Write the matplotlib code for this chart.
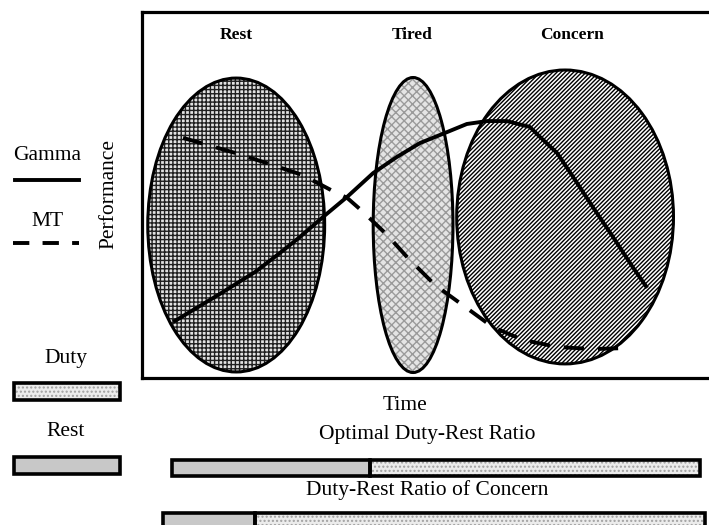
import matplotlib.pyplot as plt
from matplotlib.patches import Ellipse, Rectangle

plt.rcParams['font.family'] = ['Liberation Serif', 'DejaVu Serif']
plt.rcParams['hatch.linewidth'] = 1.0

# zones on the time axis (time 0-100, performance 0-100)
zone_names = ["Rest", "Tired", "Concern"]
zone_time = [16.3, 46.9, 73.2]
zone_perf = [41.8, 41.8, 44.0]
zone_span_t = [30.6, 13.8, 37.5]
zone_span_p = [80.3, 80.6, 80.3]
zone_label_t = [16.3, 46.7, 74.4]

# performance curves
gamma_t = [5.4, 13.5, 19.6, 23.9, 27.3, 31.7, 35.5, 40.0, 44.1, 48.1, 52.8, 56.2, 59.7, 63.1,
           67.1, 68.9, 71.8, 74.6, 78.0, 81.5, 84.9, 87.4]
gamma_p = [15.3, 23.0, 29.0, 34.2, 38.5, 44.5, 49.5, 56.0, 60.4, 64.2, 67.2, 69.4, 70.2, 70.2,
           68.6, 65.8, 61.5, 54.9, 46.7, 38.5, 30.3, 24.6]
mt_t = [7.1, 16.1, 21.6, 27.7, 33.0, 35.5, 38.1, 42.4, 46.0, 50.7, 55.5, 60.7, 65.9, 71.8, 77.9, 84.1]
mt_p = [65.6, 61.5, 58.7, 55.5, 51.1, 49.2, 45.6, 39.1, 32.8, 25.4, 19.9, 13.9, 10.4, 8.5, 7.9, 8.2]

# duty-rest ratios (share of rest)
ratio_names = ["Optimal Duty-Rest Ratio", "Duty-Rest Ratio of Concern"]
rest_share = [0.375, 0.17]

W, H = 709, 525
fig = plt.figure(figsize=(W / 100, H / 100), dpi=100)

# helper axes in pixel units for the side legend and captions
ann = fig.add_axes([0, 0, 1, 1])
ann.set_xlim(0, W)
ann.set_ylim(H, 0)
ann.axis('off')


def two_layer(ax, make, face, hatch, hatch_col, lw=2.2):
    # hatch colour follows edgecolor, so draw fill and outline apart
    ax.add_patch(make(facecolor=face, edgecolor=hatch_col, hatch=hatch, lw=0))
    ax.add_patch(make(fill=False, edgecolor='black', lw=lw))


ax = fig.add_axes([142 / W, (H - 378) / H, 578 / W, 366 / H])
ax.set_facecolor('none')
ax.set_xlim(0, 100)
ax.set_ylim(0, 100)
ax.set_xticks([])
ax.set_yticks([])
for s in ax.spines.values():
    s.set_linewidth(2.3)

styles = [('#e2e2e2', '++++', '#202020'),
          ('#e4e4e4', 'xxxx', '#9a9a9a'),
          ('white', '////////', 'black')]
for i, name in enumerate(zone_names):
    fc, ht, hc = styles[i]
    two_layer(ax, lambda i=i, **kw: Ellipse((zone_time[i], zone_perf[i]), zone_span_t[i], zone_span_p[i], **kw),
              fc, ht, hc)
    ax.text(zone_label_t[i], 93.7, name, ha='center', va='center', fontsize=12.5, fontweight='bold')

ax.plot(gamma_t, gamma_p, color='black', lw=2.8, solid_capstyle='butt', solid_joinstyle='round')
ax.plot(mt_t, mt_p, color='black', lw=2.8, linestyle=(0, (5.2, 3.6)))

ax.set_xlabel("Time", fontsize=15.5)
ax.xaxis.set_label_coords(0.455, -0.05)
ax.set_ylabel("Performance", fontsize=15.5)
ax.yaxis.set_label_coords(-0.041, 0.503)

# side legend
ann.text(47, 155, "Gamma", ha='center', va='center', fontsize=15.5)
ann.plot([15, 79], [180, 180], color='black', lw=2.8)
ann.text(47, 221, "MT", ha='center', va='center', fontsize=15.5)
ann.plot([13, 79], [243, 243], color='black', lw=2.8, linestyle=(0, (4.2, 3.4)))

ann.text(66, 358, "Duty", ha='center', va='center', fontsize=15.5)
two_layer(ann, lambda **kw: Rectangle((14, 383), 106, 17, **kw), '#ececec', '....', '#a0a0a0', lw=2.6)
ann.text(66, 432, "Rest", ha='center', va='center', fontsize=15.5)
ann.add_patch(Rectangle((14, 457), 106, 17, facecolor='#c8c8c8', edgecolor='black', lw=2.6))

# ratio bars
bar_boxes = [(172, 460, 528, 16), (163, 513, 542, 17)]
caption_y = [434, 490]
for i, name in enumerate(ratio_names):
    x0, y0, bw, bh = bar_boxes[i]
    bx = fig.add_axes([x0 / W, (H - y0 - bh) / H, bw / W, bh / H])
    bx.set_xlim(0, 1)
    bx.set_ylim(-0.5, 0.5)
    bx.axis('off')
    bx.barh(0, 1 - rest_share[i], left=rest_share[i], height=1, color='#ececec',
            edgecolor='#a0a0a0', hatch='....', lw=0)
    bx.barh(0, rest_share[i], height=1, color='#c8c8c8', lw=0)
    bx.barh(0, rest_share[i], height=1, fill=False, edgecolor='black', lw=2.6, clip_on=False)
    bx.barh(0, 1 - rest_share[i], left=rest_share[i], height=1, fill=False,
            edgecolor='black', lw=2.6, clip_on=False)
    ann.text(427, caption_y[i], name, ha='center', va='center', fontsize=15.5)

fig.savefig('out.png', dpi=100)
